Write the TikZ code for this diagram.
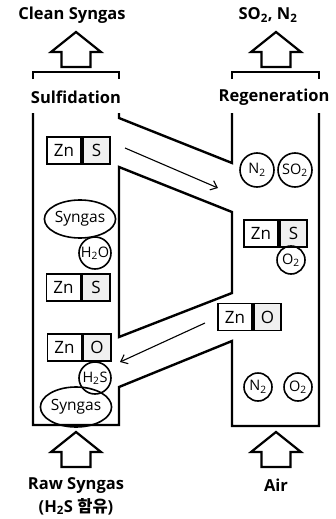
\documentclass[tikz,border=0pt]{standalone}
\usepackage{fontspec}
\setmainfont{Open Sans}
\newfontfamily\krfont{Noto Sans CJK KR}
\usetikzlibrary{shapes.geometric,arrows.meta}
\tikzset{
  lbl/.style={font=\bfseries\fontsize{16.5}{23}\selectfont,align=center},
  wall/.style={line width=2.4pt},
  cell/.style={draw,line width=1.8pt,minimum height=27pt,inner sep=0pt,font=\fontsize{17}{18}\selectfont},
  zncell/.style={cell,minimum width=34pt},
  xcell/.style={cell,minimum width=27.5pt,fill=gray!12,anchor=west},
  gas/.style={draw,circle,line width=1.6pt,inner sep=0pt,font=\fontsize{14.5}{15}\selectfont},
  syn/.style={draw,ellipse,line width=1.6pt,inner sep=0pt,minimum width=60pt,minimum height=38pt,font=\fontsize{15.5}{17}\selectfont},
  flow/.style={line width=1.1pt,-{Straight Barb[length=6pt,width=10pt,line width=1.1pt]}},
  upblock/.pic={\draw[line width=2.2pt,line join=miter] (0,0) -- (25,20) -- (14.5,20) -- (14.5,35) -- (-14.5,35) -- (-14.5,20) -- (-25,20) -- cycle;}
}
\begin{document}
\begin{tikzpicture}[x=1pt,y=-1pt]
\useasboundingbox (0,0) rectangle (335,519);
% top labels and outlets
\node[lbl] (clean) at (72,15) {Clean Syngas};
\node[lbl] (sox) at (268,15) {SO\textsubscript{2}, N\textsubscript{2}};
\pic at (76,32) {upblock};
\pic at (276,32) {upblock};
\draw[wall] (33,79) -- (33,72) -- (119,72) -- (119,79);
\draw[wall] (232,79) -- (232,72) -- (319,72) -- (319,79);
\node[lbl] (sulf) at (76,97) {Sulfidation};
\node[lbl] (regen) at (274,97) {Regeneration};
% reactor walls
\draw[wall] (33,113) -- (33,425) -- (119,425) -- (119,387) -- (232,341) -- (232,426) -- (319,426) -- (319,113);
\draw[wall] (119,113) -- (119,118) -- (232,163) -- (232,113);
\draw[wall] (119,167) -- (232,212) -- (232,293) -- (119,337) -- cycle;
% solid transport
\coordinate (s1) at (125,148);
\coordinate (s2) at (218,188);
\coordinate (r1) at (205,323);
\coordinate (r2) at (120,362);
\draw[flow] (s1) -- (s2);
\draw[flow] (r1) -- (r2);
% sulfidation side
\node[zncell] (zn1) at (64,150.5) {Zn};
\node[xcell] (s1b) at (zn1.east) {S};
\node[syn] (syn1) at (80,219) {Syngas};
\node[gas,minimum size=32pt] (h2o) at (95,253) {H\textsubscript{2}O};
\node[zncell] (zn2) at (63.5,287.5) {Zn};
\node[xcell] (s2b) at (zn2.east) {S};
\node[zncell] (zn3) at (64.5,347.5) {Zn};
\node[xcell] (o3) at (zn3.east) {O};
\node[gas,minimum size=32pt] (h2s) at (95,378) {H\textsubscript{2}S};
\node[syn,minimum width=62pt,minimum height=40pt] (syn2) at (76,407) {Syngas};
% regeneration side
\node[gas,minimum size=34pt] (n2a) at (257,170) {N\textsubscript{2}};
\node[gas,minimum size=34pt] (so2) at (295,170) {SO\textsubscript{2}};
\node[zncell] (zn4) at (261,233.5) {Zn};
\node[xcell] (s4) at (zn4.east) {S};
\node[gas,minimum size=28pt] (o2a) at (291,260) {O\textsubscript{2}};
\node[zncell] (zn5) at (235,317) {Zn};
\node[xcell] (o5) at (zn5.east) {O};
\node[gas,minimum size=28pt] (n2b) at (258,387) {N\textsubscript{2}};
\node[gas,minimum size=28pt] (o2b) at (298,387) {O\textsubscript{2}};
% inlets
\pic at (76,432) {upblock};
\pic at (276,432) {upblock};
\node[lbl] (raw) at (76,496) {Raw Syngas\\(H\textsubscript{2}S {\krfont\bfseries 함유})};
\node[lbl] (air) at (276,485) {Air};
\end{tikzpicture}
\end{document}
